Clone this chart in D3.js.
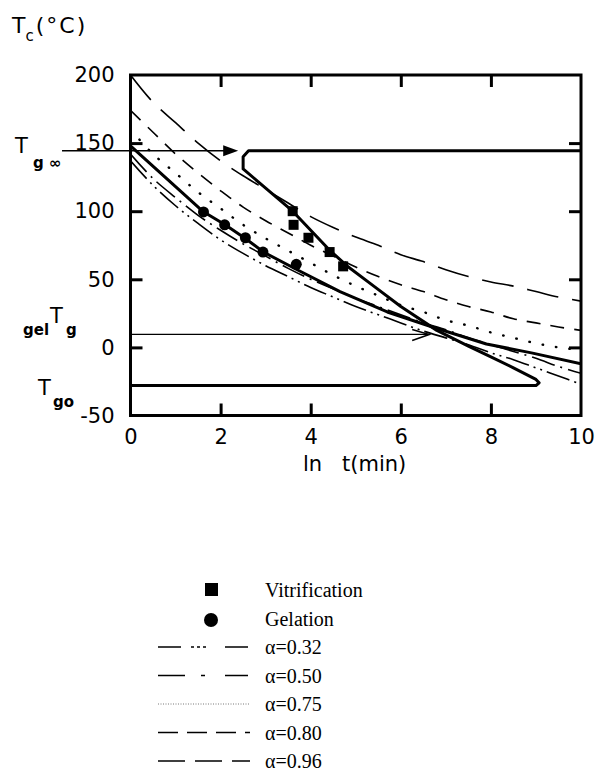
<!DOCTYPE html>
<html><head><meta charset="utf-8">
<script src="https://cdn.jsdelivr.net/npm/d3@7/dist/d3.min.js"></script>
<style>body{margin:0;background:#fff}</style>
</head><body>
<svg id="c" width="601" height="775"></svg>
<script>
// ---- data ----
const xTicks = [0, 2, 4, 6, 8, 10];
const yTicks = [-50, 0, 50, 100, 150, 200];
const alphaX = [0,0.5,1,1.5,2,2.5,3,3.5,4,4.5,5,5.5,6,6.5,7,7.5,8,8.5,9,9.5,10];
const a096 = [200,180,165,150,137,126,116,106,96,88,81,75,68,63,57,52,48,45,41,37,34];
const a080 = [174,158,142,128,115,103,93,84,75,67,59,52,46,41,35,30,26,21,18,15,12.5];
const a075 = [160,142,128,114,102,90,80,71,62,53,45,38,31,26,20,16,11,7,3,0,-2];
const a050 = [142,124,110,97,86,76,67,58,50,43,36,30,24,18,13,7,2,-3,-8,-14,-19];
const a032 = [137,119,104,91,79,69,60,52,44,37,30,24,18,12,7,2,-4,-9,-15,-21,-27];
const gelLineX = [0,1,1.6,2.1,2.55,2.95,3.7,4.65,5.7,6.7,7.9,8.9,10];
const gelLineY = [148,118,100,90,80,70,57,41,26,15,2.5,-4,-12];
const vitLineX = [10,2.62,2.5,2.5,3.0,3.6,3.8,4.4,4.8,5.4,6.0,6.8,7.5,8.0,8.5,9.0,9.07,9.0,0];
const vitLineY = [144.4,144.4,140,131,117,100,93,72,60,45,30,12.5,1,-7,-15,-23.5,-26,-28,-28];
const vitPtX = [3.6,3.62,3.95,4.42,4.72];
const vitPtY = [100,90,80.5,70,59.5];
const gelPtX = [1.62,2.09,2.55,2.94,3.68];
const gelPtY = [99.5,90,80.5,70,61];
const TgInf = 144.4, gelTg = 9.5, Tgo = -28;
const legendLabels = ["Vitrification","Gelation","α=0.32","α=0.50","α=0.75","α=0.80","α=0.96"];

// ---- drawing ----
const svg = d3.select('#c');
svg.append('rect').attr('width',601).attr('height',775).attr('fill','#fff');
const x = d3.scaleLinear().domain([0,10]).range([130.5,581]);
const y = d3.scaleLinear().domain([-50,200]).range([415.5,75]);
const sans = 'DejaVu Sans, sans-serif';

svg.append('clipPath').attr('id','pc').append('rect')
  .attr('x',x(0)).attr('y',y(200)).attr('width',x(10)-x(0)).attr('height',y(-50)-y(200));

const line = d3.line().x(d=>x(d[0])).y(d=>y(d[1]));
const smooth = d3.line().x(d=>x(d[0])).y(d=>y(d[1])).curve(d3.curveCatmullRom);

const series = [
  {v:a096, dash:'32,14', w:1.6},
  {v:a080, dash:'14,10', w:1.6},
  {v:a075, dash:'0.5,13', w:2.4, cap:'round'},
  {v:a050, dash:'24,6,2,6', w:1.6},
  {v:a032, dash:'24,5,2,5,2,5', w:1.6}
];
const g = svg.append('g').attr('clip-path','url(#pc)');
series.forEach(s=>{
  g.append('path').datum(alphaX.map((xx,i)=>[xx,s.v[i]]))
    .attr('d',smooth).attr('fill','none').attr('stroke','#000')
    .attr('stroke-width',s.w).attr('stroke-dasharray',s.dash)
    .attr('stroke-linecap',s.cap||'butt');
});
// gelation curve
g.append('path').datum(gelLineX.map((xx,i)=>[xx,gelLineY[i]]))
  .attr('d',line).attr('fill','none').attr('stroke','#000').attr('stroke-width',3)
  .attr('stroke-linejoin','round');
// vitrification path
g.append('path').datum(vitLineX.map((xx,i)=>[xx,vitLineY[i]]))
  .attr('d',line).attr('fill','none').attr('stroke','#000').attr('stroke-width',3)
  .attr('stroke-linejoin','round');

// thin arrow lines
const tipInf = x(2.39);
svg.append('line').attr('x1',x(-1.52)).attr('x2',tipInf-4).attr('y1',y(TgInf)).attr('y2',y(TgInf))
  .attr('stroke','#000').attr('stroke-width',1.3);
svg.append('path').attr('d',`M${tipInf},${y(TgInf)} L${tipInf-15},${y(TgInf)-5.5} L${tipInf-15},${y(TgInf)+5.5}Z`)
  .attr('fill','#000');
const tipGel = x(6.63);
svg.append('line').attr('x1',x(0)).attr('x2',tipGel).attr('y1',y(gelTg)).attr('y2',y(gelTg))
  .attr('stroke','#000').attr('stroke-width',1.3);
svg.append('path').attr('d',`M${tipGel-17},${y(gelTg)-5} L${tipGel},${y(gelTg)} L${tipGel-17},${y(gelTg)+6}`)
  .attr('fill','none').attr('stroke','#000').attr('stroke-width',1.5);

// markers
svg.selectAll('rect.vit').data(vitPtX.map((xx,i)=>[xx,vitPtY[i]])).enter().append('rect')
  .attr('class','vit').attr('x',d=>x(d[0])-5).attr('y',d=>y(d[1])-5).attr('width',10).attr('height',10).attr('fill','#000');
svg.selectAll('circle.gel').data(gelPtX.map((xx,i)=>[xx,gelPtY[i]])).enter().append('circle')
  .attr('class','gel').attr('cx',d=>x(d[0])).attr('cy',d=>y(d[1])).attr('r',5.5).attr('fill','#000');

// frame
svg.append('rect').attr('x',x(0)).attr('y',y(200)).attr('width',x(10)-x(0)).attr('height',y(-50)-y(200))
  .attr('fill','none').attr('stroke','#000').attr('stroke-width',3);

// inward ticks
function ticks(axis, tr){
  const a = svg.append('g').attr('transform',tr).call(axis);
  a.select('.domain').remove();
  a.selectAll('line').attr('stroke-width',3);
  a.selectAll('text').remove();
}
ticks(d3.axisLeft(y).tickValues([0,50,100,150]).tickSize(-12), `translate(${x(0)},0)`);
ticks(d3.axisRight(y).tickValues([0,50,100,150]).tickSize(-12), `translate(${x(10)},0)`);
ticks(d3.axisTop(x).tickValues([2,4,6,8]).tickSize(-12), `translate(0,${y(200)})`);
ticks(d3.axisBottom(x).tickValues([2,4,6,8]).tickSize(-12), `translate(0,${y(-50)})`);

// tick labels
const yl = svg.append('g').attr('transform',`translate(${x(0)},0)`)
  .call(d3.axisLeft(y).tickValues(yTicks).tickSize(0).tickPadding(16).tickFormat(d=>String(d)));
yl.select('.domain').remove();
yl.selectAll('text').attr('font-family',sans).attr('font-size',21).attr('fill','#000');
const xl = svg.append('g').attr('transform',`translate(0,${y(-50)})`)
  .call(d3.axisBottom(x).tickValues(xTicks).tickSize(0).tickPadding(14).tickFormat(d=>String(d)));
xl.select('.domain').remove();
xl.selectAll('text').attr('font-family',sans).attr('font-size',21).attr('fill','#000');

// axis titles
function txt(s,xx,yy,size,weight){
  return svg.append('text').attr('x',xx).attr('y',yy).attr('font-family',sans)
    .attr('font-size',size).attr('font-weight',weight||'normal').text(s);
}
const tc = svg.append('text').attr('x',12).attr('y',33).attr('font-family',sans).attr('font-size',22);
tc.append('tspan').text('T');
tc.append('tspan').attr('font-size',15).attr('dy',8).text('c');
tc.append('tspan').attr('dy',-8).attr('dx',2).attr('letter-spacing',2).text('(°C)');
txt('ln',303,471,21);
txt('t(min)',342,471,21);
txt('T',15,153,21);
txt('g ∞',33,168,15,'bold');
txt('gel',23,335,15,'bold');
txt('T',50,323,21);
txt('g',66,335,15,'bold');
txt('T',38,395,21);
txt('go',53,407,15,'bold');

// legend
const serif = 'Liberation Serif, Times New Roman, serif';
const ly0 = 597, ldy = 28.5;
legendLabels.forEach((s,i)=>{
  svg.append('text').attr('x',265).attr('y',ly0+i*ldy).attr('font-family',serif)
    .attr('font-size',20).attr('fill','#000').text(s);
});
svg.append('rect').attr('x',205).attr('y',ly0-14).attr('width',13).attr('height',13).attr('fill','#000');
svg.append('circle').attr('cx',211).attr('cy',ly0+ldy-5.5).attr('r',7).attr('fill','#000');
const legDash = [
  {dash:'23,10,3,3,3,3,3,19,23', w:1.3},
  {dash:'27,16,4,20,23', w:1.6},
  {dash:'1,1.5', w:0.8, col:'#555'},
  {dash:'20,9', w:1.6},
  {dash:'27,10', w:1.6}
];
legDash.forEach((d,i)=>{
  const yy = ly0+(i+2)*ldy-7;
  svg.append('line').attr('x1',158).attr('x2',250).attr('y1',yy).attr('y2',yy)
    .attr('stroke',d.col||'#000').attr('stroke-width',d.w).attr('stroke-dasharray',d.dash);
});
</script>
</body></html>
